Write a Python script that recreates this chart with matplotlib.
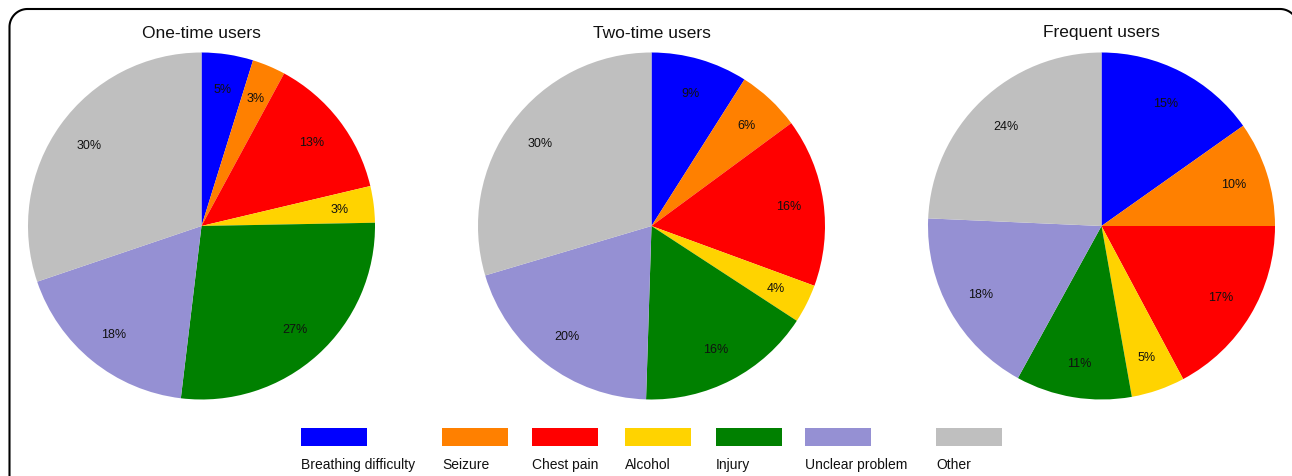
import numpy as np
import matplotlib.pyplot as plt
from matplotlib.patches import Rectangle
from matplotlib.lines import Line2D

# Daten
categories = ['Breathing difficulty', 'Seizure', 'Chest pain', 'Alcohol',
              'Injury', 'Unclear problem', 'Other']
colors = ['#0000FF', '#FF8000', '#FF0000', '#FFD300', '#008000', '#9590D3', '#BFBFBF']
groups = ['One-time users', 'Two-time users', 'Frequent users']
one_time = [4.8, 3.1, 13.4, 3.4, 27.2, 17.9, 30.2]
two_time = [9.0, 5.9, 15.7, 3.6, 16.3, 19.9, 29.6]
frequent = [15.2, 9.8, 17.2, 5.0, 10.8, 17.7, 24.3]
values = [one_time, two_time, frequent]

W, H = 1292, 477
fig = plt.figure(figsize=(W / 100, H / 100), dpi=100)
plt.rcParams['font.family'] = ['Liberation Sans', 'DejaVu Sans']

# Rahmen: linke Kante, obere Kante, Ecken (rechts abgeschnitten)
rad = 18
left, top, right = 9.5, H - 10, 1298
t = np.linspace(0, np.pi / 2, 30)
xs = np.concatenate([[left], left + rad - rad * np.cos(t),
                     right - rad + rad * np.sin(t)])
ys = np.concatenate([[-5], top - rad + rad * np.sin(t),
                     top - rad + rad * np.cos(t)])
fig.lines.append(Line2D(xs / W, ys / H, transform=fig.transFigure,
                        color='black', linewidth=1.5))

r = 173.5
centers_x = [201.5, 651.5, 1101.5]
cy = H - 227

for cx, title, vals in zip(centers_x, groups, values):
    ax = fig.add_axes([(cx - r) / W, (cy - r) / H, 2 * r / W, 2 * r / H])
    ax.pie(vals, colors=colors, startangle=90, counterclock=False,
           autopct='%1.0f%%', pctdistance=0.8, radius=1,
           wedgeprops=dict(linewidth=0),
           textprops=dict(fontsize=9, color='#111111'))
    ax.set_xlim(-1, 1)
    ax.set_ylim(-1, 1)
    ax.set_aspect('equal')
    ax.axis('off')
    fig.text(cx / W, (H - 33) / H, title, ha='center', va='center',
             fontsize=12.5, color='#111111')

# Legende
legend_x = [301, 442, 532, 625, 716, 805, 936]
for x, lab, col in zip(legend_x, categories, colors):
    fig.patches.append(Rectangle((x / W, (H - 447) / H), 66 / W, 18 / H,
                                 transform=fig.transFigure, facecolor=col,
                                 edgecolor='none'))
    fig.text(x / W, (H - 465) / H, lab, ha='left', va='center',
             fontsize=10, color='#111111')

fig.savefig('out.png', dpi=100, facecolor='white')
